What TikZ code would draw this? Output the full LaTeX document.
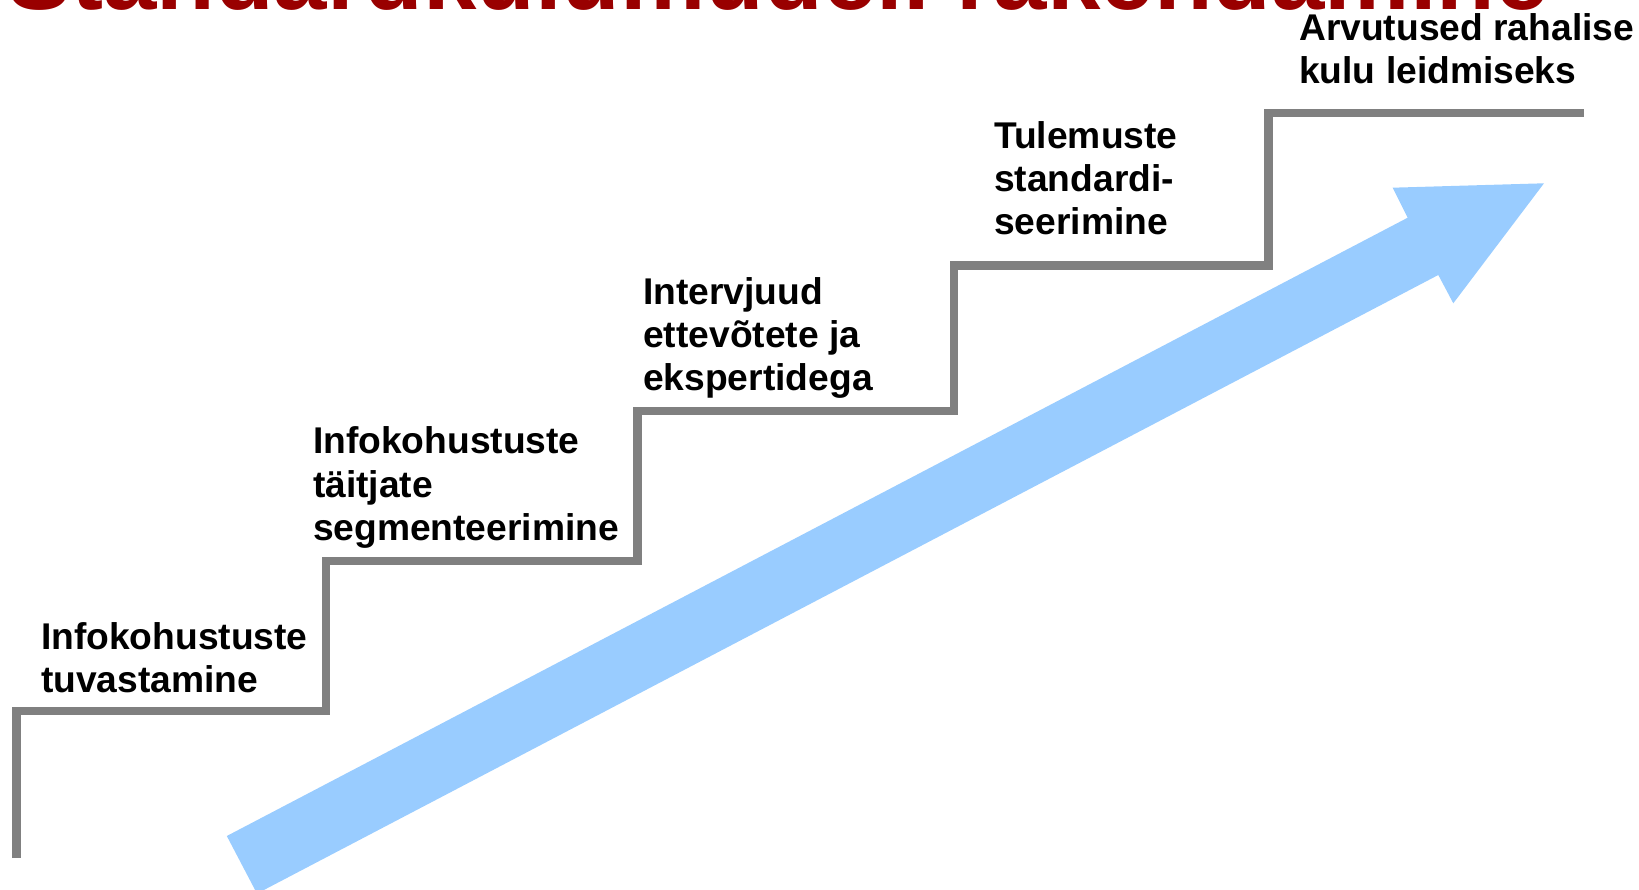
\documentclass[tikz,border=0pt]{standalone}
\usepackage{fontspec}
\setmainfont{Liberation Sans}
\definecolor{titlered}{HTML}{990000}
\definecolor{arrowblue}{HTML}{99CCFF}
\definecolor{stairgray}{HTML}{808080}
\tikzset{
  steplabel/.style={anchor=base west, inner sep=0pt, align=left,
    font=\bfseries\fontsize{37.2}{43.3}\selectfont},
  stairline/.style={draw=stairgray, line width=8.5pt, line join=miter},
}
\begin{document}
\begin{tikzpicture}[x=1pt,y=-1pt]
\useasboundingbox (0,0) rectangle (1639,890);
\clip (0,0) rectangle (1639,890);
% title (cut off at top)
\node[anchor=base west, inner sep=0pt, text=titlered,
  font=\bfseries\fontsize{96}{100}\selectfont] (title) at (7,9.5) {Standardkulumudeli rakendamine};
% arrow
\fill[arrowblue] (226.8,836) -- (1407.7,217.7) -- (1392.7,187.7) -- (1544,183.3)
  -- (1453.3,303.3) -- (1438.3,275) -- (257,893.6) -- cycle;
% stairs
\coordinate (s0) at (16.7,858);
\coordinate (s1) at (16.7,711);
\coordinate (s2) at (326,711);
\coordinate (s3) at (326,561);
\coordinate (s4) at (637.5,561);
\coordinate (s5) at (637.5,411);
\coordinate (s6) at (954,411);
\coordinate (s7) at (954,265.5);
\coordinate (s8) at (1268.5,265.5);
\coordinate (s9) at (1268.5,113);
\coordinate (s10) at (1584,113);
\draw[stairline] (s0) -- (s1) -- (s2) -- (s3) -- (s4) -- (s5) -- (s6) -- (s7) -- (s8) -- (s9) -- (s10);
% labels (anchor = baseline of last line)
\node[steplabel] (l1) at (40.8,692.5) {Infokohustuste\\tuvastamine};
\node[steplabel] (l2) at (312.8,540.5) {Infokohustuste\\täitjate\\segmenteerimine};
\node[steplabel] (l3) at (643,391) {Intervjuud\\ettevõtete ja\\ekspertidega};
\node[steplabel] (l4) at (994,235) {Tulemuste\\standardi-\\seerimine};
\node[steplabel] (l5) at (1299,83.5) {Arvutused rahalise\\kulu leidmiseks};
\end{tikzpicture}
\end{document}
